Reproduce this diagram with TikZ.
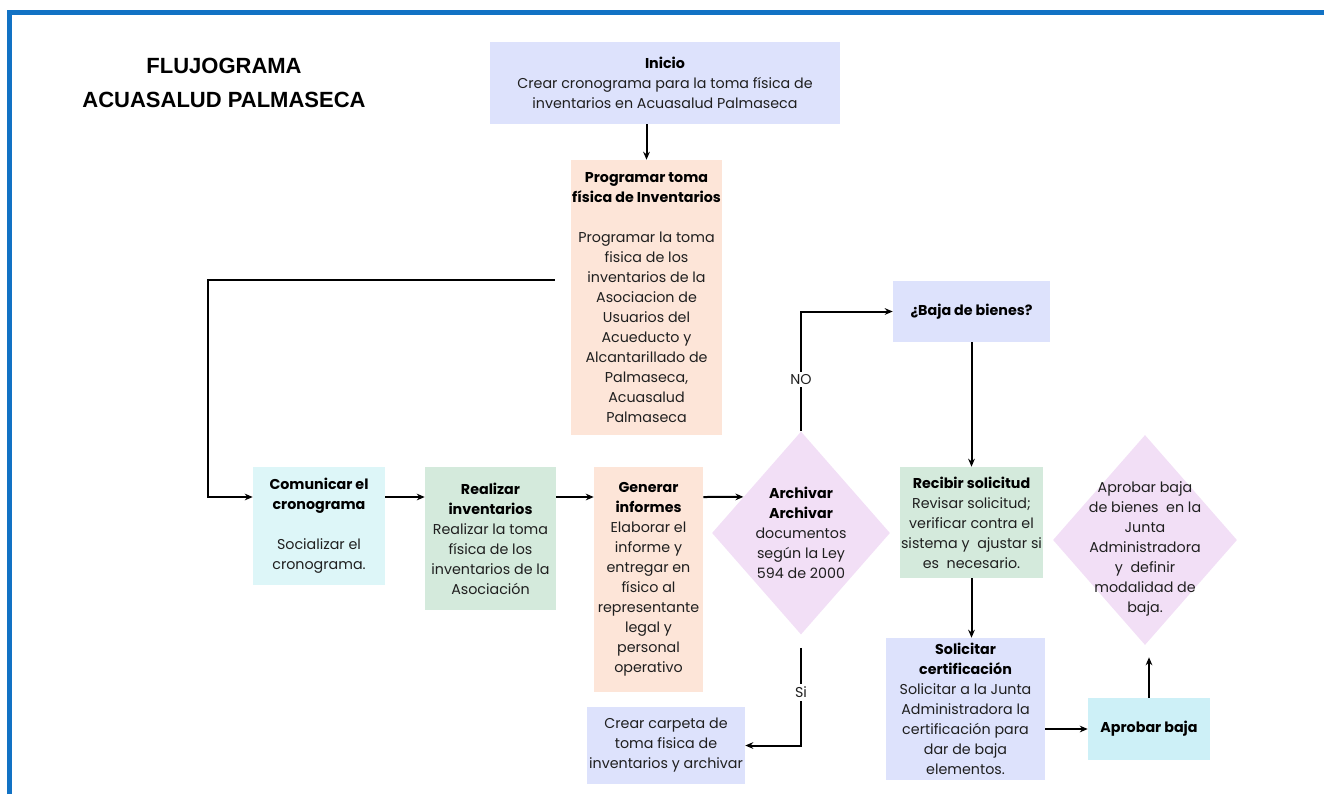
\documentclass[tikz,border=0pt]{standalone}
\usepackage{fontspec}
\setmainfont{Poppins}
\newfontfamily\titlefont{Liberation Sans}
\usepackage{xcolor}
\usetikzlibrary{positioning, shapes.geometric, arrows.meta, calc}

\newlength\px
\setlength\px{0.75pt}
\definecolor{bordeazul}{RGB}{18,114,196}
\definecolor{lila}{RGB}{221,226,252}
\definecolor{durazno}{RGB}{253,229,216}
\definecolor{celeste}{RGB}{221,246,248}
\definecolor{verdeclaro}{RGB}{212,234,220}
\definecolor{rosalila}{RGB}{242,223,246}
\definecolor{aguamarina}{RGB}{205,240,247}
\newcommand{\tit}[1]{{\color{black}\bfseries #1}}

\tikzset{
  caja/.style={rectangle, inner sep=0pt, align=center, text=black!88,
    font=\fontsize{10.7}{15}\selectfont},
  rombo/.style={diamond, inner sep=0pt, fill=rosalila},
  texto/.style={align=center, text=black!88, font=\fontsize{10.7}{15}\selectfont},
  flecha/.style={-{Stealth[length=6pt,width=5pt]}, line width=1.5pt},
  linea/.style={line width=1.5pt}
}

\begin{document}
\begin{tikzpicture}[x=0.75pt, y=-0.75pt]
\useasboundingbox (0,0) rectangle (1324,794);
% marco
\draw[bordeazul, line width=5\px] (9,794) -- (9,12.5) -- (1324,12.5);
\node[font=\titlefont\bfseries\fontsize{16.5}{26}\selectfont, align=center] (titulo) at (224,83) {FLUJOGRAMA\\ACUASALUD PALMASECA};

% cajas
\node[caja, fill=lila, minimum width=350\px, minimum height=82\px] (inicio) at (665,83)
  {\tit{Inicio}\\Crear cronograma para la toma física de\\inventarios en Acuasalud Palmaseca};
\node[caja, fill=durazno, minimum width=151\px, minimum height=275\px] (prog) at (646.5,297.5)
  {\tit{Programar toma}\\\tit{física de Inventarios}\\[15pt]Programar la toma\\fisica de los\\inventarios de la\\Asociacion de\\Usuarios del\\Acueducto y\\Alcantarillado de\\Palmaseca,\\Acuasalud\\Palmaseca};
\node[caja, fill=celeste, minimum width=132\px, minimum height=118\px] (comun) at (319,526)
  {\tit{Comunicar el}\\\tit{cronograma}\\[15pt]Socializar el\\cronograma.};
\node[caja, fill=verdeclaro, minimum width=131\px, minimum height=143\px] (realiz) at (490.5,538.5)
  {\tit{Realizar}\\\tit{inventarios}\\Realizar la toma\\física de los\\inventarios de la\\Asociación};
\node[caja, fill=durazno, minimum width=109\px, minimum height=225\px] (generar) at (648.5,579.5)
  {\tit{Generar}\\\tit{informes}\\Elaborar el\\informe y\\entregar en\\físico al\\representante\\legal y\\personal\\operativo};
\node[rombo, minimum width=178\px, minimum height=203\px,
  label={[texto]center:{\tit{Archivar}\\\tit{Archivar}\\documentos\\según la Ley\\594 de 2000}}] (arch) at (801,533) {};
\node[caja, fill=lila, minimum width=157\px, minimum height=61\px] (baja) at (971.5,311.5)
  {\tit{¿Baja de bienes?}};
\node[caja, fill=verdeclaro, minimum width=143\px, minimum height=111\px] (recibir) at (971.5,522.5)
  {\tit{Recibir solicitud}\\Revisar solicitud;\\verificar contra el\\sistema y~ ajustar si\\es~ necesario.};
\node[caja, fill=lila, minimum width=159\px, minimum height=142\px] (solicitar) at (965.5,709)
  {\tit{Solicitar}\\\tit{certificación}\\Solicitar a la Junta\\Administradora la\\certificación para\\dar de baja\\elementos.};
\node[caja, fill=aguamarina, minimum width=122\px, minimum height=62\px] (aprobar) at (1149,729)
  {\tit{Aprobar baja}};
\node[rombo, minimum width=184\px, minimum height=210\px,
  label={[texto, yshift=-7pt]center:{Aprobar baja\\de bienes~ en la\\Junta\\Administradora\\y~ definir\\modalidad de\\baja.}}] (junta) at (1145,540) {};
\node[caja, fill=lila, minimum width=158\px, minimum height=77\px] (crear) at (666,745.5)
  {Crear carpeta de\\toma fisica de\\inventarios y archivar};

% conectores
\coordinate (fila) at (0,497);
\coordinate (salida) at ($(prog.west)+(-16,-17.5)$);
\coordinate (esquina) at (208,280);
\draw[flecha] (inicio.south -| prog.north) -- (prog.north);
\draw[flecha] (salida) -- (esquina) |- (comun.west |- fila);
\draw[flecha] (comun.east |- fila) -- (realiz.west |- fila);
\draw[flecha] (realiz.east |- fila) -- (generar.west |- fila);
\draw[flecha] (generar.east |- fila) -- ($(arch.west)!0.355!(arch.north)$);
\draw[flecha] (arch.north) |- (baja.west) node[pos=0.217, fill=white, inner sep=2pt, texto] {NO};
\draw[flecha] (baja.south) -- (recibir.north);
\draw[flecha] (recibir.south) -- (recibir.south |- solicitar.north);
\draw[flecha] (solicitar.east |- aprobar.west) -- (aprobar.west);
\draw[flecha, shorten >=12\px] (aprobar.north) -- (aprobar.north |- junta.south);
\draw[flecha, shorten <=13\px] (arch.south) |- (crear.east) node[pos=0.26, fill=white, inner sep=2pt, texto] {Si};
\end{tikzpicture}
\end{document}
